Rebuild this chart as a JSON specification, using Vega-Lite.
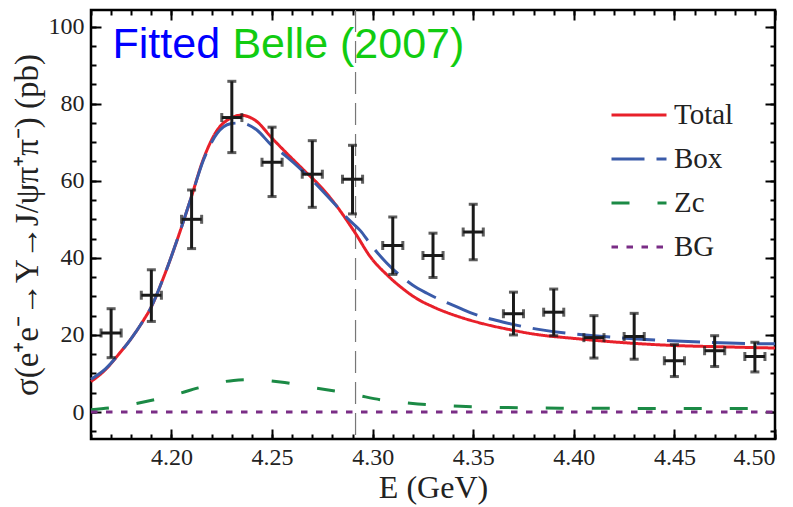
{
  "$schema": "https://vega.github.io/schema/vega-lite/v6.json",
  "width": 684,
  "height": 429,
  "autosize": {"type": "none"},
  "padding": {"left": 91, "top": 10, "right": 18, "bottom": 68},
  "background": "white",
  "config": {
    "view": {"stroke": "black", "strokeWidth": 2.5},
    "axis": {
      "domain": false, "grid": false,
      "tickColor": "black", "tickWidth": 2,
      "labelFont": "Liberation Serif", "labelFontSize": 24, "labelColor": "#222",
      "titleFont": "Liberation Serif", "titleFontWeight": "normal", "titleColor": "#222"
    },
    "legend": {
      "labelFont": "Liberation Serif", "labelFontSize": 29, "labelColor": "#222"
    }
  },
  "datasets": {
    "points": [
      {"E": 4.17, "Elo": 4.165, "Ehi": 4.175, "sig": 20.5, "lo": 14.1, "hi": 26.8},
      {"E": 4.19, "Elo": 4.185, "Ehi": 4.195, "sig": 30.3, "lo": 23.5, "hi": 36.9},
      {"E": 4.21, "Elo": 4.205, "Ehi": 4.215, "sig": 50.0, "lo": 42.4, "hi": 57.6},
      {"E": 4.23, "Elo": 4.225, "Ehi": 4.235, "sig": 76.4, "lo": 67.3, "hi": 85.8},
      {"E": 4.25, "Elo": 4.245, "Ehi": 4.255, "sig": 64.8, "lo": 55.9, "hi": 73.9},
      {"E": 4.27, "Elo": 4.265, "Ehi": 4.275, "sig": 61.7, "lo": 53.1, "hi": 70.4},
      {"E": 4.29, "Elo": 4.285, "Ehi": 4.295, "sig": 60.4, "lo": 51.4, "hi": 69.2},
      {"E": 4.31, "Elo": 4.305, "Ehi": 4.315, "sig": 43.2, "lo": 35.7, "hi": 50.6},
      {"E": 4.33, "Elo": 4.325, "Ehi": 4.335, "sig": 40.6, "lo": 34.9, "hi": 46.4},
      {"E": 4.35, "Elo": 4.345, "Ehi": 4.355, "sig": 46.7, "lo": 39.5, "hi": 53.9},
      {"E": 4.37, "Elo": 4.365, "Ehi": 4.375, "sig": 25.5, "lo": 20.0, "hi": 31.1},
      {"E": 4.39, "Elo": 4.385, "Ehi": 4.395, "sig": 25.9, "lo": 19.8, "hi": 31.9},
      {"E": 4.41, "Elo": 4.405, "Ehi": 4.415, "sig": 19.3, "lo": 14.0, "hi": 25.0},
      {"E": 4.43, "Elo": 4.425, "Ehi": 4.435, "sig": 19.6, "lo": 13.7, "hi": 25.6},
      {"E": 4.45, "Elo": 4.445, "Ehi": 4.455, "sig": 13.3, "lo": 9.2, "hi": 17.5},
      {"E": 4.47, "Elo": 4.465, "Ehi": 4.475, "sig": 15.9, "lo": 11.8, "hi": 19.8},
      {"E": 4.49, "Elo": 4.485, "Ehi": 4.495, "sig": 14.4, "lo": 10.4, "hi": 18.1}
    ],
    "curves": [
      {"series": "Total", "E": 4.160, "v": 7.9},
      {"series": "Total", "E": 4.1672, "v": 11.0},
      {"series": "Total", "E": 4.1738, "v": 15.0},
      {"series": "Total", "E": 4.1796, "v": 18.8},
      {"series": "Total", "E": 4.1862, "v": 23.9},
      {"series": "Total", "E": 4.1896, "v": 26.9},
      {"series": "Total", "E": 4.1962, "v": 35.1},
      {"series": "Total", "E": 4.2028, "v": 44.6},
      {"series": "Total", "E": 4.2094, "v": 55.0},
      {"series": "Total", "E": 4.2160, "v": 65.8},
      {"series": "Total", "E": 4.2227, "v": 73.1},
      {"series": "Total", "E": 4.2293, "v": 76.2},
      {"series": "Total", "E": 4.2343, "v": 77.0},
      {"series": "Total", "E": 4.2426, "v": 75.3},
      {"series": "Total", "E": 4.2492, "v": 71.5},
      {"series": "Total", "E": 4.2566, "v": 67.5},
      {"series": "Total", "E": 4.2657, "v": 62.8},
      {"series": "Total", "E": 4.2750, "v": 58.0},
      {"series": "Total", "E": 4.2823, "v": 53.3},
      {"series": "Total", "E": 4.2914, "v": 46.4},
      {"series": "Total", "E": 4.2988, "v": 40.3},
      {"series": "Total", "E": 4.3071, "v": 35.6},
      {"series": "Total", "E": 4.3150, "v": 32.0},
      {"series": "Total", "E": 4.3220, "v": 29.4},
      {"series": "Total", "E": 4.3300, "v": 27.3},
      {"series": "Total", "E": 4.3436, "v": 24.6},
      {"series": "Total", "E": 4.3550, "v": 22.9},
      {"series": "Total", "E": 4.3651, "v": 21.7},
      {"series": "Total", "E": 4.3817, "v": 20.1},
      {"series": "Total", "E": 4.4000, "v": 19.1},
      {"series": "Total", "E": 4.4147, "v": 18.4},
      {"series": "Total", "E": 4.4479, "v": 17.3},
      {"series": "Total", "E": 4.4750, "v": 16.9},
      {"series": "Total", "E": 4.5000, "v": 16.6},
      {"series": "Box", "E": 4.160, "v": 8.5},
      {"series": "Box", "E": 4.1672, "v": 11.2},
      {"series": "Box", "E": 4.1738, "v": 15.0},
      {"series": "Box", "E": 4.1796, "v": 18.8},
      {"series": "Box", "E": 4.1862, "v": 23.9},
      {"series": "Box", "E": 4.1896, "v": 26.9},
      {"series": "Box", "E": 4.1962, "v": 35.1},
      {"series": "Box", "E": 4.2028, "v": 44.6},
      {"series": "Box", "E": 4.2094, "v": 55.0},
      {"series": "Box", "E": 4.2160, "v": 65.5},
      {"series": "Box", "E": 4.2227, "v": 72.3},
      {"series": "Box", "E": 4.2293, "v": 74.8},
      {"series": "Box", "E": 4.2343, "v": 75.0},
      {"series": "Box", "E": 4.2426, "v": 73.1},
      {"series": "Box", "E": 4.2492, "v": 69.5},
      {"series": "Box", "E": 4.2566, "v": 66.5},
      {"series": "Box", "E": 4.2657, "v": 62.3},
      {"series": "Box", "E": 4.2823, "v": 53.3},
      {"series": "Box", "E": 4.2880, "v": 50.0},
      {"series": "Box", "E": 4.2940, "v": 47.0},
      {"series": "Box", "E": 4.2988, "v": 43.6},
      {"series": "Box", "E": 4.3071, "v": 38.6},
      {"series": "Box", "E": 4.3200, "v": 32.9},
      {"series": "Box", "E": 4.3270, "v": 30.8},
      {"series": "Box", "E": 4.3436, "v": 26.9},
      {"series": "Box", "E": 4.3485, "v": 25.8},
      {"series": "Box", "E": 4.3651, "v": 23.3},
      {"series": "Box", "E": 4.3817, "v": 21.5},
      {"series": "Box", "E": 4.4147, "v": 19.6},
      {"series": "Box", "E": 4.4479, "v": 18.5},
      {"series": "Box", "E": 4.4975, "v": 17.7},
      {"series": "Box", "E": 4.5000, "v": 17.7},
      {"series": "Zc", "E": 4.160, "v": 0.6},
      {"series": "Zc", "E": 4.175, "v": 1.5},
      {"series": "Zc", "E": 4.1879, "v": 2.8},
      {"series": "Zc", "E": 4.2045, "v": 4.9},
      {"series": "Zc", "E": 4.2128, "v": 6.2},
      {"series": "Zc", "E": 4.2309, "v": 8.2},
      {"series": "Zc", "E": 4.2400, "v": 8.4},
      {"series": "Zc", "E": 4.2541, "v": 7.8},
      {"series": "Zc", "E": 4.2707, "v": 6.3},
      {"series": "Zc", "E": 4.2873, "v": 4.9},
      {"series": "Zc", "E": 4.2939, "v": 4.2},
      {"series": "Zc", "E": 4.3038, "v": 3.2},
      {"series": "Zc", "E": 4.3187, "v": 2.3},
      {"series": "Zc", "E": 4.3436, "v": 1.5},
      {"series": "Zc", "E": 4.3932, "v": 1.0},
      {"series": "Zc", "E": 4.4876, "v": 0.9},
      {"series": "Zc", "E": 4.5000, "v": 0.9},
      {"series": "BG", "E": 4.160, "v": 0.0},
      {"series": "BG", "E": 4.500, "v": 0.0}
    ]
  },
  "resolve": {"axis": {"x": "independent", "y": "independent"}},
  "layer": [
    {
      "data": {"values": [{"E": 4.2915}]},
      "mark": {"type": "rule", "color": "#777777", "strokeWidth": 1.2, "strokeDash": [22, 9]},
      "encoding": {
        "x": {
          "field": "E", "type": "quantitative",
          "scale": {"domain": [4.16, 4.5], "nice": false, "zero": false},
          "axis": {
            "orient": "bottom", "values": [4.2, 4.25, 4.3, 4.35, 4.4, 4.45, 4.5],
            "format": ".2f", "ticks": false, "labelPadding": 6,
            "labelFont": "Liberation Serif", "labelFontSize": 24,
            "title": "E (GeV)", "titleFont": "Liberation Serif", "titleFontSize": 32, "titlePadding": 3
          }
        }
      }
    },
    {
      "data": {"name": "curves"},
      "mark": {"type": "line", "strokeWidth": 3, "interpolate": "monotone"},
      "encoding": {
        "x": {
          "field": "E", "type": "quantitative",
          "scale": {"domain": [4.16, 4.5], "nice": false, "zero": false},
          "axis": {"orient": "top", "values": [4.2, 4.25, 4.3, 4.35, 4.4, 4.45, 4.5], "labels": false, "tickSize": -10, "title": null}
        },
        "y": {
          "field": "v", "type": "quantitative",
          "scale": {"domain": [-7, 104.3], "nice": false, "zero": false},
          "axis": {
            "orient": "left", "values": [0, 20, 40, 60, 80, 100], "ticks": false, "labelPadding": 7,
            "labelFont": "Liberation Serif", "labelFontSize": 24,
            "title": "σ(e⁺e⁻→Y→J/ψπ⁺π⁻) (pb)", "titleFont": "Liberation Serif", "titleFontSize": 33, "titlePadding": 4
          }
        },
        "color": {
          "field": "series", "type": "nominal",
          "scale": {"domain": ["Total", "Box", "Zc", "BG"], "range": ["#E8202A", "#3A5BA9", "#1B8A45", "#7A2D86"]},
          "legend": {
            "title": null, "orient": "none", "legendX": 519, "legendY": 76, "padding": 0,
            "symbolType": "stroke", "symbolSize": 3025, "symbolStrokeWidth": 3,
            "labelOffset": 6, "rowPadding": -6
          }
        },
        "strokeDash": {
          "field": "series", "type": "nominal",
          "scale": {"domain": ["Total", "Box", "Zc", "BG"], "range": [[1, 0], [33, 12], [18, 28], [6.5, 8.5]]},
          "legend": {
            "title": null, "orient": "none", "legendX": 519, "legendY": 76, "padding": 0,
            "symbolType": "stroke", "symbolSize": 3025, "symbolStrokeWidth": 3,
            "labelOffset": 6, "rowPadding": -6
          }
        }
      }
    },
    {
      "data": {"name": "points"},
      "mark": {"type": "rule", "color": "#1a1a1a", "strokeWidth": 3},
      "encoding": {
        "x": {
          "field": "E", "type": "quantitative",
          "scale": {"domain": [4.16, 4.5], "nice": false, "zero": false},
          "axis": {"orient": "bottom", "values": [4.2, 4.25, 4.3, 4.35, 4.4, 4.45, 4.5], "labels": false, "tickSize": -10, "title": null}
        },
        "y": {
          "field": "lo", "type": "quantitative",
          "scale": {"domain": [-7, 104.3], "nice": false, "zero": false},
          "axis": {"orient": "left", "values": [0, 20, 40, 60, 80, 100], "labels": false, "tickSize": -10, "title": null}
        },
        "y2": {"field": "hi"}
      }
    },
    {
      "data": {"name": "points"},
      "mark": {"type": "rule", "color": "#1a1a1a", "strokeWidth": 3},
      "encoding": {
        "x": {
          "field": "Elo", "type": "quantitative",
          "scale": {"domain": [4.16, 4.5], "nice": false, "zero": false},
          "axis": {"orient": "bottom", "values": [4.16, 4.17, 4.18, 4.19, 4.2, 4.21, 4.22, 4.23, 4.24, 4.25, 4.26, 4.27, 4.28, 4.29, 4.3, 4.31, 4.32, 4.33, 4.34, 4.35, 4.36, 4.37, 4.38, 4.39, 4.4, 4.41, 4.42, 4.43, 4.44, 4.45, 4.46, 4.47, 4.48, 4.49, 4.5], "labels": false, "tickSize": -5, "title": null}
        },
        "x2": {"field": "Ehi"},
        "y": {
          "field": "sig", "type": "quantitative",
          "scale": {"domain": [-7, 104.3], "nice": false, "zero": false},
          "axis": {"orient": "left", "values": [-5, 0, 5, 10, 15, 20, 25, 30, 35, 40, 45, 50, 55, 60, 65, 70, 75, 80, 85, 90, 95, 100], "labels": false, "tickSize": -5, "title": null}
        }
      }
    },
    {
      "data": {"name": "points"},
      "mark": {"type": "tick", "orient": "horizontal", "color": "#1a1a1a", "size": 9, "thickness": 3},
      "encoding": {
        "x": {
          "field": "E", "type": "quantitative",
          "scale": {"domain": [4.16, 4.5], "nice": false, "zero": false},
          "axis": {"orient": "top", "values": [4.16, 4.17, 4.18, 4.19, 4.2, 4.21, 4.22, 4.23, 4.24, 4.25, 4.26, 4.27, 4.28, 4.29, 4.3, 4.31, 4.32, 4.33, 4.34, 4.35, 4.36, 4.37, 4.38, 4.39, 4.4, 4.41, 4.42, 4.43, 4.44, 4.45, 4.46, 4.47, 4.48, 4.49, 4.5], "labels": false, "tickSize": -5, "title": null}
        },
        "y": {
          "field": "hi", "type": "quantitative",
          "scale": {"domain": [-7, 104.3], "nice": false, "zero": false},
          "axis": {"orient": "right", "values": [0, 20, 40, 60, 80, 100], "labels": false, "tickSize": -10, "title": null}
        }
      }
    },
    {
      "data": {"name": "points"},
      "mark": {"type": "tick", "orient": "horizontal", "color": "#1a1a1a", "size": 9, "thickness": 3},
      "encoding": {
        "x": {"field": "E", "type": "quantitative", "scale": {"domain": [4.16, 4.5], "nice": false, "zero": false}, "axis": null},
        "y": {
          "field": "lo", "type": "quantitative",
          "scale": {"domain": [-7, 104.3], "nice": false, "zero": false},
          "axis": {"orient": "right", "values": [-5, 0, 5, 10, 15, 20, 25, 30, 35, 40, 45, 50, 55, 60, 65, 70, 75, 80, 85, 90, 95, 100], "labels": false, "tickSize": -5, "title": null}
        }
      }
    },
    {
      "data": {"name": "points"},
      "mark": {"type": "tick", "orient": "vertical", "color": "#1a1a1a", "size": 9, "thickness": 3},
      "encoding": {
        "x": {"field": "Elo", "type": "quantitative", "scale": {"domain": [4.16, 4.5], "nice": false, "zero": false}, "axis": null},
        "y": {"field": "sig", "type": "quantitative", "scale": {"domain": [-7, 104.3], "nice": false, "zero": false}, "axis": null}
      }
    },
    {
      "data": {"name": "points"},
      "mark": {"type": "tick", "orient": "vertical", "color": "#1a1a1a", "size": 9, "thickness": 3},
      "encoding": {
        "x": {"field": "Ehi", "type": "quantitative", "scale": {"domain": [4.16, 4.5], "nice": false, "zero": false}, "axis": null},
        "y": {"field": "sig", "type": "quantitative", "scale": {"domain": [-7, 104.3], "nice": false, "zero": false}, "axis": null}
      }
    },
    {
      "data": {"values": [{"label": "Fitted"}]},
      "mark": {"type": "text", "align": "left", "baseline": "alphabetic", "font": "Liberation Sans", "fontSize": 43, "color": "#0000FF"},
      "encoding": {
        "x": {"datum": 4.1707, "type": "quantitative", "axis": null},
        "y": {"datum": 91.8, "type": "quantitative", "axis": null},
        "text": {"field": "label"}
      }
    },
    {
      "data": {"values": [{"label": "Belle (2007)"}]},
      "mark": {"type": "text", "align": "left", "baseline": "alphabetic", "font": "Liberation Sans", "fontSize": 43, "color": "#11CC11"},
      "encoding": {
        "x": {"datum": 4.2303, "type": "quantitative", "axis": null},
        "y": {"datum": 91.8, "type": "quantitative", "axis": null},
        "text": {"field": "label"}
      }
    }
  ]
}
